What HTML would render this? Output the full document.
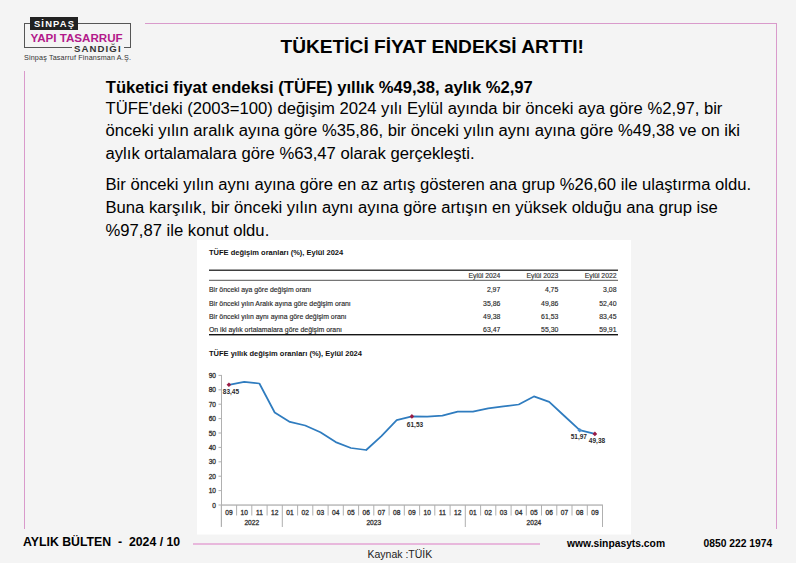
<!DOCTYPE html>
<html><head><meta charset="utf-8">
<style>
*{margin:0;padding:0;box-sizing:border-box}
html,body{width:796px;height:563px;overflow:hidden;background:#f4f4f4;font-family:"Liberation Sans",sans-serif;color:#000;position:relative}
.abs{position:absolute}
.t{white-space:nowrap}
.pink{background:#d99acb}
</style></head><body>
<!-- logo -->
<div class="abs" style="left:24px;top:23px;width:107px;height:25px;border:1.3px solid #555;"></div>
<div class="abs" style="left:30px;top:17px;width:48px;height:13px;background:#222;color:#fff;font-weight:bold;font-size:9.4px;letter-spacing:1.2px;text-indent:1.2px;line-height:14px;text-align:center">SİNPAŞ</div>
<div class="abs" style="left:30.5px;top:32.3px;font-weight:bold;font-size:11.6px;color:#b3198a;letter-spacing:0px;line-height:12px;white-space:nowrap">YAPI TASARRUF</div>
<div class="abs" style="left:72px;top:43px;width:52px;height:9px;background:#f4f4f4"></div>
<div class="abs" style="left:74px;top:43.9px;font-weight:bold;font-size:9.6px;color:#333;letter-spacing:1.1px;line-height:10px;white-space:nowrap">SANDIĞI</div>
<div class="abs" style="left:24px;top:53.5px;font-size:7.2px;color:#333;line-height:7px;letter-spacing:0.15px;white-space:nowrap">Sinpaş Tasarruf Finansman A.Ş.</div>
<!-- frame lines -->
<div class="abs pink" style="left:145px;top:23px;width:632px;height:1px"></div>
<div class="abs pink" style="left:776px;top:23px;width:1px;height:506px"></div>
<div class="abs pink" style="left:24px;top:71px;width:1px;height:458px"></div>
<div class="abs pink" style="left:193px;top:543.2px;width:347px;height:1.4px;background:#e8b8dc"></div>
<svg class="abs" style="left:0;top:0" width="796" height="563">
<rect x="197" y="240" width="434" height="294.5" fill="#fff"/>
<text x="209" y="255" font-size="7.5" font-weight="bold" fill="#111">TÜFE değişim oranları (%), Eylül 2024</text>
<rect x="209" y="269.6" width="409" height="1.2" fill="#111"/>
<rect x="209" y="279.8" width="409" height="1" fill="#555"/>
<rect x="209" y="334" width="409" height="1.4" fill="#151515"/>
<text x="500.3" y="278" font-size="6.8" fill="#333" stroke="#333" stroke-width="0.15" text-anchor="end">Eylül 2024</text>
<text x="558.3" y="278" font-size="6.8" fill="#333" stroke="#333" stroke-width="0.15" text-anchor="end">Eylül 2023</text>
<text x="616.5" y="278" font-size="6.8" fill="#333" stroke="#333" stroke-width="0.15" text-anchor="end">Eylül 2022</text>
<text x="209" y="292" font-size="6.9" fill="#2a2a2a" stroke="#2a2a2a" stroke-width="0.15">Bir önceki aya göre değişim oranı</text>
<text x="500.3" y="292" font-size="6.9" fill="#2a2a2a" stroke="#2a2a2a" stroke-width="0.15" text-anchor="end">2,97</text>
<text x="558.3" y="292" font-size="6.9" fill="#2a2a2a" stroke="#2a2a2a" stroke-width="0.15" text-anchor="end">4,75</text>
<text x="616.5" y="292" font-size="6.9" fill="#2a2a2a" stroke="#2a2a2a" stroke-width="0.15" text-anchor="end">3,08</text>
<text x="209" y="305.5" font-size="6.9" fill="#2a2a2a" stroke="#2a2a2a" stroke-width="0.15">Bir önceki yılın Aralık ayına göre değişim oranı</text>
<text x="500.3" y="305.5" font-size="6.9" fill="#2a2a2a" stroke="#2a2a2a" stroke-width="0.15" text-anchor="end">35,86</text>
<text x="558.3" y="305.5" font-size="6.9" fill="#2a2a2a" stroke="#2a2a2a" stroke-width="0.15" text-anchor="end">49,86</text>
<text x="616.5" y="305.5" font-size="6.9" fill="#2a2a2a" stroke="#2a2a2a" stroke-width="0.15" text-anchor="end">52,40</text>
<text x="209" y="319" font-size="6.9" fill="#2a2a2a" stroke="#2a2a2a" stroke-width="0.15">Bir önceki yılın aynı ayına göre değişim oranı</text>
<text x="500.3" y="319" font-size="6.9" fill="#2a2a2a" stroke="#2a2a2a" stroke-width="0.15" text-anchor="end">49,38</text>
<text x="558.3" y="319" font-size="6.9" fill="#2a2a2a" stroke="#2a2a2a" stroke-width="0.15" text-anchor="end">61,53</text>
<text x="616.5" y="319" font-size="6.9" fill="#2a2a2a" stroke="#2a2a2a" stroke-width="0.15" text-anchor="end">83,45</text>
<text x="209" y="331.9" font-size="6.9" fill="#2a2a2a" stroke="#2a2a2a" stroke-width="0.15">On iki aylık ortalamalara göre değişim oranı</text>
<text x="500.3" y="331.9" font-size="6.9" fill="#2a2a2a" stroke="#2a2a2a" stroke-width="0.15" text-anchor="end">63,47</text>
<text x="558.3" y="331.9" font-size="6.9" fill="#2a2a2a" stroke="#2a2a2a" stroke-width="0.15" text-anchor="end">55,30</text>
<text x="616.5" y="331.9" font-size="6.9" fill="#2a2a2a" stroke="#2a2a2a" stroke-width="0.15" text-anchor="end">59,91</text>
<text x="209" y="355.7" font-size="7.5" font-weight="bold" fill="#111">TÜFE yıllık değişim oranları (%), Eylül 2024</text>
<rect x="221" y="374.9" width="1" height="151.6" fill="#b0b0b0"/>
<rect x="218.5" y="504.5" width="2.5" height="1" fill="#b0b0b0"/>
<text x="216" y="507.6" font-size="6.6" fill="#333" stroke="#333" stroke-width="0.3" text-anchor="end">0</text>
<rect x="218.5" y="490.1" width="2.5" height="1" fill="#b0b0b0"/>
<text x="216" y="493.2" font-size="6.6" fill="#333" stroke="#333" stroke-width="0.3" text-anchor="end">10</text>
<rect x="218.5" y="475.7" width="2.5" height="1" fill="#b0b0b0"/>
<text x="216" y="478.8" font-size="6.6" fill="#333" stroke="#333" stroke-width="0.3" text-anchor="end">20</text>
<rect x="218.5" y="461.3" width="2.5" height="1" fill="#b0b0b0"/>
<text x="216" y="464.4" font-size="6.6" fill="#333" stroke="#333" stroke-width="0.3" text-anchor="end">30</text>
<rect x="218.5" y="446.9" width="2.5" height="1" fill="#b0b0b0"/>
<text x="216" y="450.0" font-size="6.6" fill="#333" stroke="#333" stroke-width="0.3" text-anchor="end">40</text>
<rect x="218.5" y="432.5" width="2.5" height="1" fill="#b0b0b0"/>
<text x="216" y="435.6" font-size="6.6" fill="#333" stroke="#333" stroke-width="0.3" text-anchor="end">50</text>
<rect x="218.5" y="418.1" width="2.5" height="1" fill="#b0b0b0"/>
<text x="216" y="421.2" font-size="6.6" fill="#333" stroke="#333" stroke-width="0.3" text-anchor="end">60</text>
<rect x="218.5" y="403.7" width="2.5" height="1" fill="#b0b0b0"/>
<text x="216" y="406.8" font-size="6.6" fill="#333" stroke="#333" stroke-width="0.3" text-anchor="end">70</text>
<rect x="218.5" y="389.3" width="2.5" height="1" fill="#b0b0b0"/>
<text x="216" y="392.4" font-size="6.6" fill="#333" stroke="#333" stroke-width="0.3" text-anchor="end">80</text>
<rect x="218.5" y="374.9" width="2.5" height="1" fill="#b0b0b0"/>
<text x="216" y="378.0" font-size="6.6" fill="#333" stroke="#333" stroke-width="0.3" text-anchor="end">90</text>
<rect x="221" y="504.4" width="381.9" height="1.3" fill="#b0b0b0"/>
<rect x="220.8" y="505" width="1" height="22" fill="#b0b0b0"/>
<rect x="236.1" y="505" width="1" height="10.5" fill="#b0b0b0"/>
<rect x="251.3" y="505" width="1" height="10.5" fill="#b0b0b0"/>
<rect x="266.6" y="505" width="1" height="10.5" fill="#b0b0b0"/>
<rect x="281.8" y="505" width="1" height="22" fill="#b0b0b0"/>
<rect x="297.1" y="505" width="1" height="10.5" fill="#b0b0b0"/>
<rect x="312.3" y="505" width="1" height="10.5" fill="#b0b0b0"/>
<rect x="327.6" y="505" width="1" height="10.5" fill="#b0b0b0"/>
<rect x="342.8" y="505" width="1" height="10.5" fill="#b0b0b0"/>
<rect x="358.1" y="505" width="1" height="10.5" fill="#b0b0b0"/>
<rect x="373.3" y="505" width="1" height="10.5" fill="#b0b0b0"/>
<rect x="388.6" y="505" width="1" height="10.5" fill="#b0b0b0"/>
<rect x="403.8" y="505" width="1" height="10.5" fill="#b0b0b0"/>
<rect x="419.1" y="505" width="1" height="10.5" fill="#b0b0b0"/>
<rect x="434.3" y="505" width="1" height="10.5" fill="#b0b0b0"/>
<rect x="449.6" y="505" width="1" height="10.5" fill="#b0b0b0"/>
<rect x="464.8" y="505" width="1" height="22" fill="#b0b0b0"/>
<rect x="480.1" y="505" width="1" height="10.5" fill="#b0b0b0"/>
<rect x="495.3" y="505" width="1" height="10.5" fill="#b0b0b0"/>
<rect x="510.6" y="505" width="1" height="10.5" fill="#b0b0b0"/>
<rect x="525.8" y="505" width="1" height="10.5" fill="#b0b0b0"/>
<rect x="541.0" y="505" width="1" height="10.5" fill="#b0b0b0"/>
<rect x="556.3" y="505" width="1" height="10.5" fill="#b0b0b0"/>
<rect x="571.5" y="505" width="1" height="10.5" fill="#b0b0b0"/>
<rect x="586.8" y="505" width="1" height="10.5" fill="#b0b0b0"/>
<rect x="602.0" y="505" width="1" height="22" fill="#b0b0b0"/>
<text x="228.9" y="514.6" font-size="6.6" fill="#333" stroke="#333" stroke-width="0.3" text-anchor="middle">09</text>
<text x="244.2" y="514.6" font-size="6.6" fill="#333" stroke="#333" stroke-width="0.3" text-anchor="middle">10</text>
<text x="259.4" y="514.6" font-size="6.6" fill="#333" stroke="#333" stroke-width="0.3" text-anchor="middle">11</text>
<text x="274.7" y="514.6" font-size="6.6" fill="#333" stroke="#333" stroke-width="0.3" text-anchor="middle">12</text>
<text x="289.9" y="514.6" font-size="6.6" fill="#333" stroke="#333" stroke-width="0.3" text-anchor="middle">01</text>
<text x="305.2" y="514.6" font-size="6.6" fill="#333" stroke="#333" stroke-width="0.3" text-anchor="middle">02</text>
<text x="320.4" y="514.6" font-size="6.6" fill="#333" stroke="#333" stroke-width="0.3" text-anchor="middle">03</text>
<text x="335.7" y="514.6" font-size="6.6" fill="#333" stroke="#333" stroke-width="0.3" text-anchor="middle">04</text>
<text x="350.9" y="514.6" font-size="6.6" fill="#333" stroke="#333" stroke-width="0.3" text-anchor="middle">05</text>
<text x="366.2" y="514.6" font-size="6.6" fill="#333" stroke="#333" stroke-width="0.3" text-anchor="middle">06</text>
<text x="381.4" y="514.6" font-size="6.6" fill="#333" stroke="#333" stroke-width="0.3" text-anchor="middle">07</text>
<text x="396.7" y="514.6" font-size="6.6" fill="#333" stroke="#333" stroke-width="0.3" text-anchor="middle">08</text>
<text x="411.9" y="514.6" font-size="6.6" fill="#333" stroke="#333" stroke-width="0.3" text-anchor="middle">09</text>
<text x="427.2" y="514.6" font-size="6.6" fill="#333" stroke="#333" stroke-width="0.3" text-anchor="middle">10</text>
<text x="442.4" y="514.6" font-size="6.6" fill="#333" stroke="#333" stroke-width="0.3" text-anchor="middle">11</text>
<text x="457.7" y="514.6" font-size="6.6" fill="#333" stroke="#333" stroke-width="0.3" text-anchor="middle">12</text>
<text x="472.9" y="514.6" font-size="6.6" fill="#333" stroke="#333" stroke-width="0.3" text-anchor="middle">01</text>
<text x="488.2" y="514.6" font-size="6.6" fill="#333" stroke="#333" stroke-width="0.3" text-anchor="middle">02</text>
<text x="503.4" y="514.6" font-size="6.6" fill="#333" stroke="#333" stroke-width="0.3" text-anchor="middle">03</text>
<text x="518.7" y="514.6" font-size="6.6" fill="#333" stroke="#333" stroke-width="0.3" text-anchor="middle">04</text>
<text x="533.9" y="514.6" font-size="6.6" fill="#333" stroke="#333" stroke-width="0.3" text-anchor="middle">05</text>
<text x="549.2" y="514.6" font-size="6.6" fill="#333" stroke="#333" stroke-width="0.3" text-anchor="middle">06</text>
<text x="564.4" y="514.6" font-size="6.6" fill="#333" stroke="#333" stroke-width="0.3" text-anchor="middle">07</text>
<text x="579.7" y="514.6" font-size="6.6" fill="#333" stroke="#333" stroke-width="0.3" text-anchor="middle">08</text>
<text x="594.9" y="514.6" font-size="6.6" fill="#333" stroke="#333" stroke-width="0.3" text-anchor="middle">09</text>
<text x="251.8" y="525.3" font-size="6.6" fill="#333" stroke="#333" stroke-width="0.3" text-anchor="middle">2022</text>
<text x="373.8" y="525.3" font-size="6.6" fill="#333" stroke="#333" stroke-width="0.3" text-anchor="middle">2023</text>
<text x="533.9" y="525.3" font-size="6.6" fill="#333" stroke="#333" stroke-width="0.3" text-anchor="middle">2024</text>
<polyline points="228.9,384.8 244.2,381.9 259.4,383.5 274.7,412.5 289.9,421.9 305.2,425.5 320.4,432.3 335.7,442.1 350.9,448.0 366.2,450.0 381.4,436.1 396.7,420.1 411.9,416.4 427.2,416.6 442.4,415.7 457.7,411.7 472.9,411.6 488.2,408.4 503.4,406.4 518.7,404.5 533.9,396.4 549.2,401.9 564.4,416.0 579.7,430.2 594.9,433.9" fill="none" stroke="#2f7cbf" stroke-width="1.75" stroke-linejoin="round"/>
<path d="M228.9 382.5L231.2 384.8L228.9 387.1L226.6 384.8Z" fill="#9a1b44"/>
<path d="M411.9 414.1L414.2 416.4L411.9 418.7L409.6 416.4Z" fill="#9a1b44"/>
<path d="M579.7 427.9L582.0 430.2L579.7 432.5L577.4 430.2Z" fill="#4a8fd0"/>
<path d="M594.9 431.6L597.2 433.9L594.9 436.2L592.6 433.9Z" fill="#9a1b44"/>
<text x="222.8" y="394" font-size="6.5" font-weight="bold" fill="#2a2a2a">83,45</text>
<text x="415" y="426.6" font-size="6.5" font-weight="bold" fill="#2a2a2a" text-anchor="middle">61,53</text>
<text x="578.8" y="439.3" font-size="6.5" font-weight="bold" fill="#2a2a2a" text-anchor="middle">51,97</text>
<text x="597" y="442.7" font-size="6.5" font-weight="bold" fill="#2a2a2a" text-anchor="middle">49,38</text>
</svg>
<div class="abs t" style="left:105.8px;top:79.65px;font-size:16.6px;line-height:16.6px;font-weight:bold;color:#000;">Tüketici fiyat endeksi (TÜFE) yıllık %49,38, aylık %2,97</div>
<div class="abs t" style="left:105.5px;top:100.71px;font-size:16.65px;line-height:16.65px;color:#000;">TÜFE'deki (2003=100) değişim 2024 yılı Eylül ayında bir önceki aya göre %2,97, bir</div>
<div class="abs t" style="left:105.5px;top:122.81px;font-size:16.65px;line-height:16.65px;color:#000;">önceki yılın aralık ayına göre %35,86, bir önceki yılın aynı ayına göre %49,38 ve on iki</div>
<div class="abs t" style="left:105.5px;top:145.81px;font-size:16.65px;line-height:16.65px;color:#000;">aylık ortalamalara göre %63,47 olarak gerçekleşti.</div>
<div class="abs t" style="left:105.5px;top:176.91px;font-size:16.65px;line-height:16.65px;color:#000;">Bir önceki yılın aynı ayına göre en az artış gösteren ana grup %26,60 ile ulaştırma oldu.</div>
<div class="abs t" style="left:105.5px;top:199.51px;font-size:16.65px;line-height:16.65px;color:#000;">Buna karşılık, bir önceki yılın aynı ayına göre artışın en yüksek olduğu ana grup ise</div>
<div class="abs t" style="left:105.5px;top:223.11px;font-size:16.65px;line-height:16.65px;color:#000;">%97,87 ile konut oldu.</div>
<div class="abs t" style="left:280.5px;top:37.49px;font-size:19.15px;line-height:19.15px;font-weight:bold;color:#000;">TÜKETİCİ FİYAT ENDEKSİ ARTTI!</div>
<div class="abs t" style="left:23px;top:536.19px;font-size:12.3px;line-height:12.3px;font-weight:bold;color:#000;white-space:pre;">AYLIK BÜLTEN  -  2024 / 10</div>
<div class="abs t" style="left:567px;top:538.68px;font-size:10.3px;line-height:10.3px;font-weight:bold;color:#000;">www.sinpasyts.com</div>
<div class="abs t" style="left:703.5px;top:538.68px;font-size:10.3px;line-height:10.3px;font-weight:bold;color:#000;">0850 222 1974</div>
<div class="abs t" style="left:367.5px;top:549.01px;font-size:10.5px;line-height:10.5px;color:#222;">Kaynak :TÜİK</div>
</body></html>
